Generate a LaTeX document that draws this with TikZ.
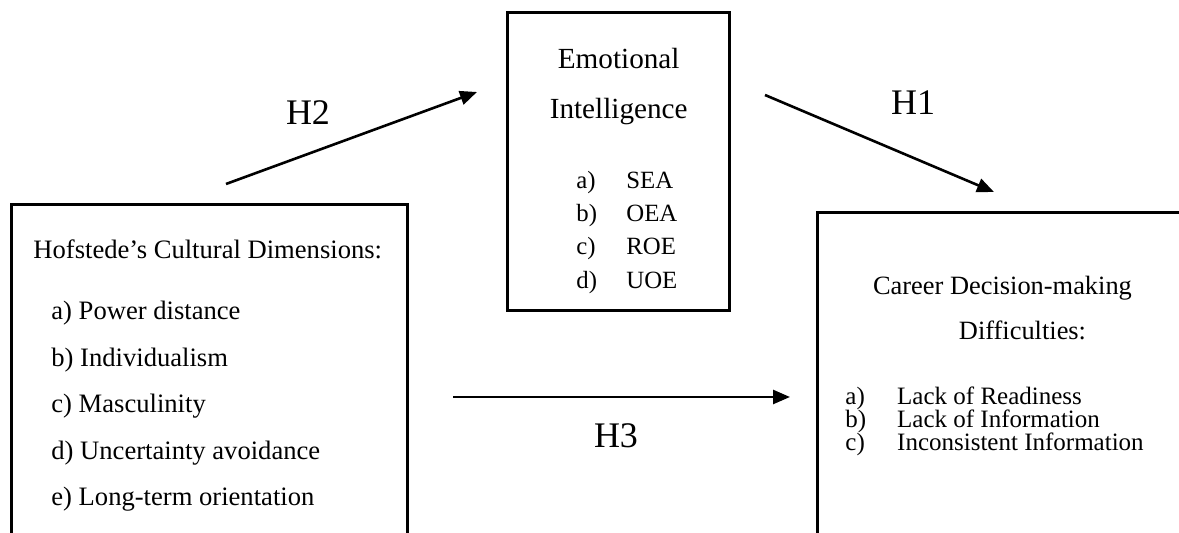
\documentclass[tikz,border=0pt]{standalone}
\usepackage{fontspec}
\setmainfont{Liberation Serif}
\usetikzlibrary{arrows.meta}
\begin{document}
\begin{tikzpicture}[x=0.5pt,y=-0.5pt,
  box/.style={draw, line width=1.5pt, inner sep=0pt, fill=none},
  lbl/.style={anchor=base west, inner sep=0pt},
  ctr/.style={anchor=base, inner sep=0pt},
  fleft/.style={font=\fontsize{13.3}{16}\selectfont},
  fmidtitle/.style={font=\fontsize{14.6}{17}\selectfont},
  fmiditem/.style={font=\fontsize{12.4}{15}\selectfont},
  frighttitle/.style={font=\fontsize{13.2}{16}\selectfont},
  frightitem/.style={font=\fontsize{12.5}{15}\selectfont},
  hyp/.style={ctr, font=\fontsize{18}{21}\selectfont},
  link/.style={line width=1.3pt, -{Triangle[length=8.5pt,width=7pt]}}
]
\useasboundingbox (0,0) rectangle (1179,533);
\begin{scope}
\clip (0,0) rectangle (1179,533);

% boxes
\node[box, minimum width=198pt, minimum height=180pt] (hof) at (209,385) {};
\node[box, minimum width=111pt, minimum height=149pt] (ei) at (618,162) {};
\node[box, minimum width=210pt, minimum height=180pt] (cdd) at (1027,393) {};

% Hofstede's cultural dimensions
\node[lbl, fleft] (hoft) at (33,259) {Hofstede’s Cultural Dimensions:};
\node[lbl, fleft] (hofa) at (51,319.3) {a) Power distance};
\node[lbl, fleft] (hofb) at (51,366.7) {b) Individualism};
\node[lbl, fleft] (hofc) at (51,412.7) {c) Masculinity};
\node[lbl, fleft] (hofd) at (51,460) {d) Uncertainty avoidance};
\node[lbl, fleft] (hofe) at (51,506) {e) Long-term orientation};

% Emotional intelligence
\node[ctr, fmidtitle] (eit1) at (618.7,68.3) {Emotional};
\node[ctr, fmidtitle] (eit2) at (618.7,118.3) {Intelligence};
\node[lbl, fmiditem] (eia) at (576,188.3) {\makebox[25pt][l]{a)}SEA};
\node[lbl, fmiditem] (eib) at (576,221.7) {\makebox[25pt][l]{b)}OEA};
\node[lbl, fmiditem] (eic) at (576,255) {\makebox[25pt][l]{c)}ROE};
\node[lbl, fmiditem] (eid) at (576,288.3) {\makebox[25pt][l]{d)}UOE};

% Career decision-making difficulties
\node[ctr, frighttitle] (cddt1) at (1002.5,295) {Career Decision-making};
\node[ctr, frighttitle] (cddt2) at (1022.5,339.3) {Difficulties:};
\node[lbl, frightitem] (cdda) at (845,405) {\makebox[25.9pt][l]{a)}Lack of Readiness};
\node[lbl, frightitem] (cddb) at (845,428) {\makebox[25.9pt][l]{b)}Lack of Information};
\node[lbl, frightitem] (cddc) at (845,451) {\makebox[25.9pt][l]{c)}Inconsistent Information};

% hypothesised paths
\coordinate (h2s) at (226,184);
\coordinate (h2e) at (477,92);
\coordinate (h1s) at (765,95);
\coordinate (h1e) at (994,192);
\coordinate (h3s) at (453,397);
\coordinate (h3e) at (790,397);
\draw[link] (h2s) -- (h2e);
\draw[link] (h1s) -- (h1e);
\draw[link] (h3s) -- (h3e);
\node[hyp] (h2) at (308,125) {H2};
\node[hyp] (h1) at (913,115) {H1};
\node[hyp] (h3) at (616,447.3) {H3};
\end{scope}
\end{tikzpicture}
\end{document}
